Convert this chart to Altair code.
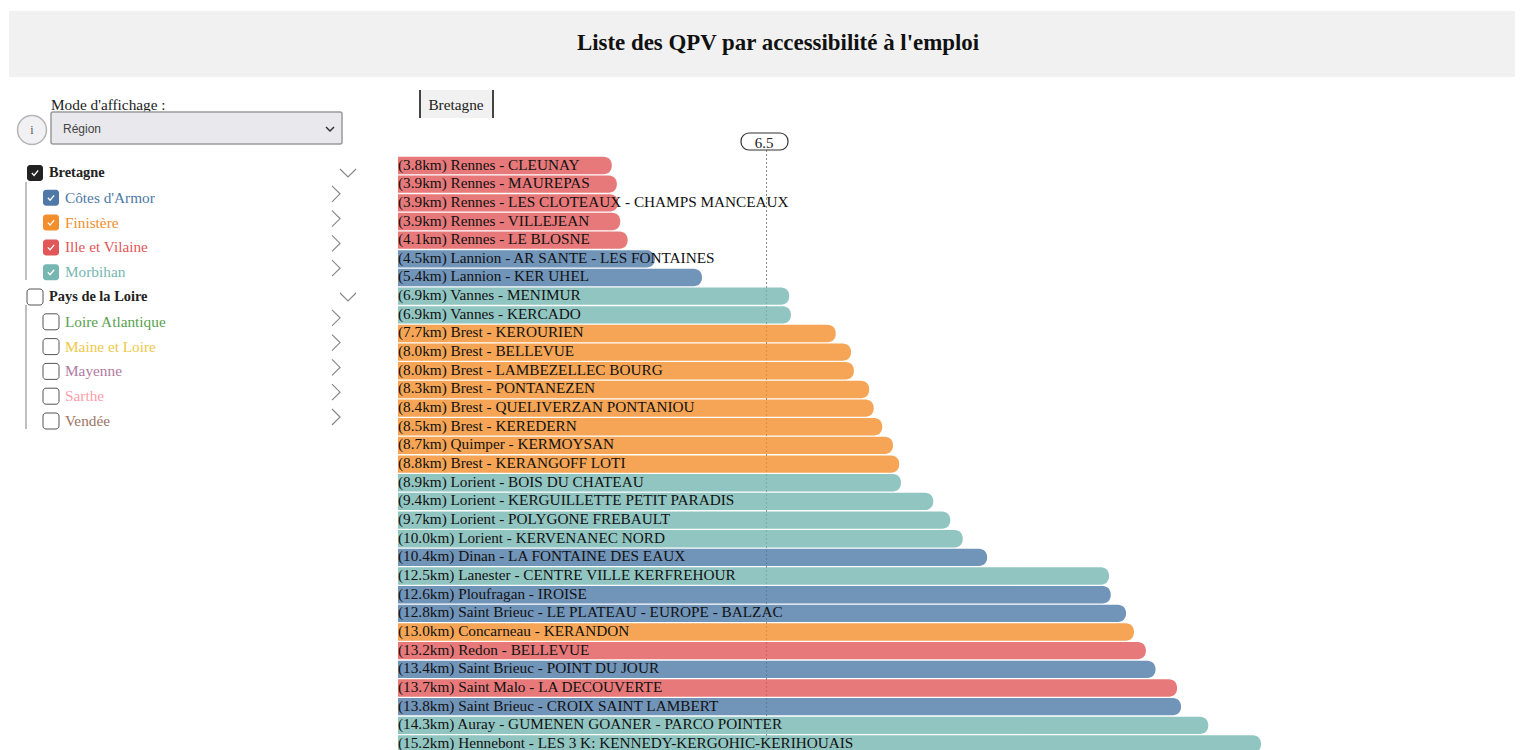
import altair as alt
import pandas as pd

# ---- data ----
places = ["Rennes - CLEUNAY", "Rennes - MAUREPAS", "Rennes - LES CLOTEAUX - CHAMPS MANCEAUX", "Rennes - VILLEJEAN",
          "Rennes - LE BLOSNE", "Lannion - AR SANTE - LES FONTAINES", "Lannion - KER UHEL", "Vannes - MENIMUR",
          "Vannes - KERCADO", "Brest - KEROURIEN", "Brest - BELLEVUE", "Brest - LAMBEZELLEC BOURG",
          "Brest - PONTANEZEN", "Brest - QUELIVERZAN PONTANIOU", "Brest - KEREDERN", "Quimper - KERMOYSAN",
          "Brest - KERANGOFF LOTI", "Lorient - BOIS DU CHATEAU", "Lorient - KERGUILLETTE PETIT PARADIS",
          "Lorient - POLYGONE FREBAULT", "Lorient - KERVENANEC NORD", "Dinan - LA FONTAINE DES EAUX",
          "Lanester - CENTRE VILLE KERFREHOUR", "Ploufragan - IROISE", "Saint Brieuc - LE PLATEAU - EUROPE - BALZAC",
          "Concarneau - KERANDON", "Redon - BELLEVUE", "Saint Brieuc - POINT DU JOUR", "Saint Malo - LA DECOUVERTE",
          "Saint Brieuc - CROIX SAINT LAMBERT", "Auray - GUMENEN GOANER - PARCO POINTER",
          "Hennebont - LES 3 K: KENNEDY-KERGOHIC-KERIHOUAIS"]
km = [3.77, 3.86, 3.88, 3.92, 4.05, 4.53, 5.36, 6.90, 6.93, 7.72, 7.99, 8.04, 8.31, 8.39, 8.54, 8.73, 8.84, 8.87,
      9.44, 9.74, 9.96, 10.39, 12.54, 12.57, 12.84, 12.98, 13.19, 13.36, 13.74, 13.81, 14.29, 15.22]
shown = [3.8, 3.9, 3.9, 3.9, 4.1, 4.5, 5.4, 6.9, 6.9, 7.7, 8.0, 8.0, 8.3, 8.4, 8.5, 8.7, 8.8, 8.9,
         9.4, 9.7, 10.0, 10.4, 12.5, 12.6, 12.8, 13.0, 13.2, 13.4, 13.7, 13.8, 14.3, 15.2]
depts = ["Ille et Vilaine"] * 5 + ["Côtes d'Armor"] * 2 + ["Morbihan"] * 2 + ["Finistère"] * 8 + ["Morbihan"] * 4 + \
        ["Côtes d'Armor", "Morbihan", "Côtes d'Armor", "Côtes d'Armor", "Finistère", "Ille et Vilaine",
         "Côtes d'Armor", "Ille et Vilaine", "Côtes d'Armor", "Morbihan", "Morbihan"]
threshold = 6.5

tree = ["Bretagne", "Côtes d'Armor", "Finistère", "Ille et Vilaine", "Morbihan", "Pays de la Loire",
        "Loire Atlantique", "Maine et Loire", "Mayenne", "Sarthe", "Vendée"]
tree_colors = ["#222222", "#4e79a7", "#f28e2b", "#e15759", "#76b7b2", "#222222",
               "#59a14f", "#edc948", "#b07aa1", "#ff9da7", "#9c755f"]
checked = [True, True, True, True, True, False, False, False, False, False, False]
is_group = [True, False, False, False, False, True, False, False, False, False, False]

# ---- tables ----
df = pd.DataFrame({"place": places, "km": km, "dept": depts, "zero": 0.0})
df["label"] = [f"({k:.1f}km) {p}" for k, p in zip(shown, places)]
tdf = pd.DataFrame({"item": tree, "checked": checked, "group": is_group})
one = pd.DataFrame({"a": [0]})

FONT = "Liberation Serif"


def P(v):  # page pixel -> chart pixel
    return alt.value(v - 8)


# ---- scales ----
X = alt.Scale(domain=[0, 15.2], range=[390, 390 + 15.2 * 56.7], nice=False, zero=False)
Y = alt.Scale(domain=places, range=[148.2, 148.2 + 32 * 18.66], paddingInner=0.07, paddingOuter=0.035)
T = alt.Scale(type="point", domain=tree, range=[165, 165 + 10 * 24.8], padding=0)
DC = alt.Scale(domain=tree, range=tree_colors)


def box(x0, x1, y0, y1, **kw):
    return alt.Chart(one).mark_rect(**kw).encode(x=P(x0), x2=P(x1), y=P(y0), y2=P(y1))


def txt(s, x, y, **kw):
    kw.setdefault("font", FONT)
    return alt.Chart(pd.DataFrame({"t": [s]})).mark_text(baseline="middle", **kw).encode(
        x=P(x), y=P(y), text="t:N")


def vline(x, y0, y1, **kw):
    return alt.Chart(one).mark_rule(**kw).encode(x=P(x), y=P(y0), y2=P(y1))


layers = []
# header
layers += [box(9, 1523, 11, 77, color="#f1f1f1"),
           txt("Liste des QPV par accessibilité à l'emploi", 778, 43, fontSize=22.9, fontWeight="bold",
               align="center", color="#111111")]
# display mode control
layers += [txt("Mode d'affichage :", 51, 105, fontSize=15.3, align="left", color="#222222"),
           box(51, 342, 112, 144, color="#e9e9ed", stroke="#9a9a9a", strokeWidth=1.5, cornerRadius=2),
           txt("Région", 63, 129, fontSize=12, align="left", color="#444444", font="Liberation Sans"),
           alt.Chart(one).mark_point(shape="M-1,-0.5L0,0.5L1,-0.5", size=64, filled=False, color="#333333",
                                     strokeWidth=1.5, opacity=1).encode(x=P(330), y=P(129)),
           alt.Chart(one).mark_point(shape="circle", size=840, filled=True, color="#f1f1f3", stroke="#b5b5b5",
                                     strokeWidth=1.5, opacity=1).encode(x=P(32), y=P(130)),
           txt("i", 32, 130, fontSize=12, align="center", color="#555555")]
# tree
ty = alt.Y("item:N", scale=T, axis=None)
layers += [vline(26, 182, 280, color="#aaaaaa", strokeWidth=1.5),
           vline(26, 305, 429, color="#aaaaaa", strokeWidth=1.5)]
for grp, cx, lx in [(True, 35, 49), (False, 51, 65)]:
    sub = tdf[tdf["group"] == grp]
    layers.append(alt.Chart(sub).mark_rect(width=16, height=16, cornerRadius=3).encode(
        x=P(cx), y=ty,
        color=alt.Color("item:N", scale=DC, legend=None)).transform_filter("datum.checked"))
    layers.append(alt.Chart(sub).mark_rect(width=16, height=16, cornerRadius=3, stroke="#555555", fill="#ffffff",
                                           strokeWidth=1).encode(x=P(cx), y=ty).transform_filter("!datum.checked"))
    layers.append(alt.Chart(sub).mark_point(shape="M-0.7,0L-0.2,0.55L0.7,-0.55", size=81, filled=False,
                                            color="#ffffff", strokeWidth=1.3, opacity=1).encode(
        x=P(cx), y=ty).transform_filter("datum.checked"))
    layers.append(alt.Chart(sub).mark_text(font=FONT, fontSize=14.4 if grp else 15.3, align="left", baseline="middle",
                                           fontWeight="bold" if grp else "normal").encode(
        x=P(lx), y=ty, text="item:N", color=alt.Color("item:N", scale=DC, legend=None)))
    if grp:
        layers.append(alt.Chart(sub).mark_point(shape="M-1,-0.5L0,0.5L1,-0.5", size=256, filled=False,
                                                color="#888888", strokeWidth=1.2, opacity=1).encode(
            x=P(348), y=ty))
    else:
        layers.append(alt.Chart(sub).mark_point(shape="M-0.5,-1L0.5,0L-0.5,1", size=256, filled=False,
                                                color="#888888", strokeWidth=1.2, opacity=1, yOffset=-4).encode(
            x=P(336), y=ty))
# tab
layers += [box(419, 494, 90, 118, color="#f1f1f1"),
           box(419, 421, 90, 118, color="#444444"),
           box(492, 494, 90, 118, color="#444444"),
           txt("Bretagne", 456, 105, fontSize=15.3, align="center", color="#222222")]
# threshold
layers.append(alt.Chart(pd.DataFrame({"v": [threshold]})).mark_rule(color="#888888", strokeDash=[2, 2], strokeWidth=1).encode(
    x=alt.X("v:Q", scale=X, axis=None), y=P(150), y2=P(750)))
layers += [box(741, 788, 133, 150, fill="#ffffff", stroke="#333333", strokeWidth=1.2, cornerRadius=8),
           txt(str(threshold), 764, 143, fontSize=15, align="center", color="#222222")]
# bars
layers.append(alt.Chart(df).mark_bar(opacity=0.8, cornerRadiusTopRight=8, cornerRadiusBottomRight=8).encode(
    x=alt.X("km:Q", scale=X, axis=None),
    x2="zero:Q",
    y=alt.Y("place:N", scale=Y, axis=None, sort=None),
    color=alt.Color("dept:N", scale=DC, legend=None)))
layers.append(alt.Chart(df).mark_text(font=FONT, fontSize=15.25, align="left", baseline="middle", color="#111111", dy=-1).encode(
    x=alt.X("zero:Q", scale=X, axis=None),
    y=alt.Y("place:N", scale=Y, axis=None, sort=None),
    text="label:N"))

chart = alt.layer(*layers).resolve_scale(x="independent", y="independent", color="independent").properties(
    width=1507, height=742, padding=0, autosize=alt.AutoSizeParams(type="none"), background="#ffffff"
).configure_view(stroke=None)

chart.save("out.html", embed_options={"renderer": "svg", "actions": False})
